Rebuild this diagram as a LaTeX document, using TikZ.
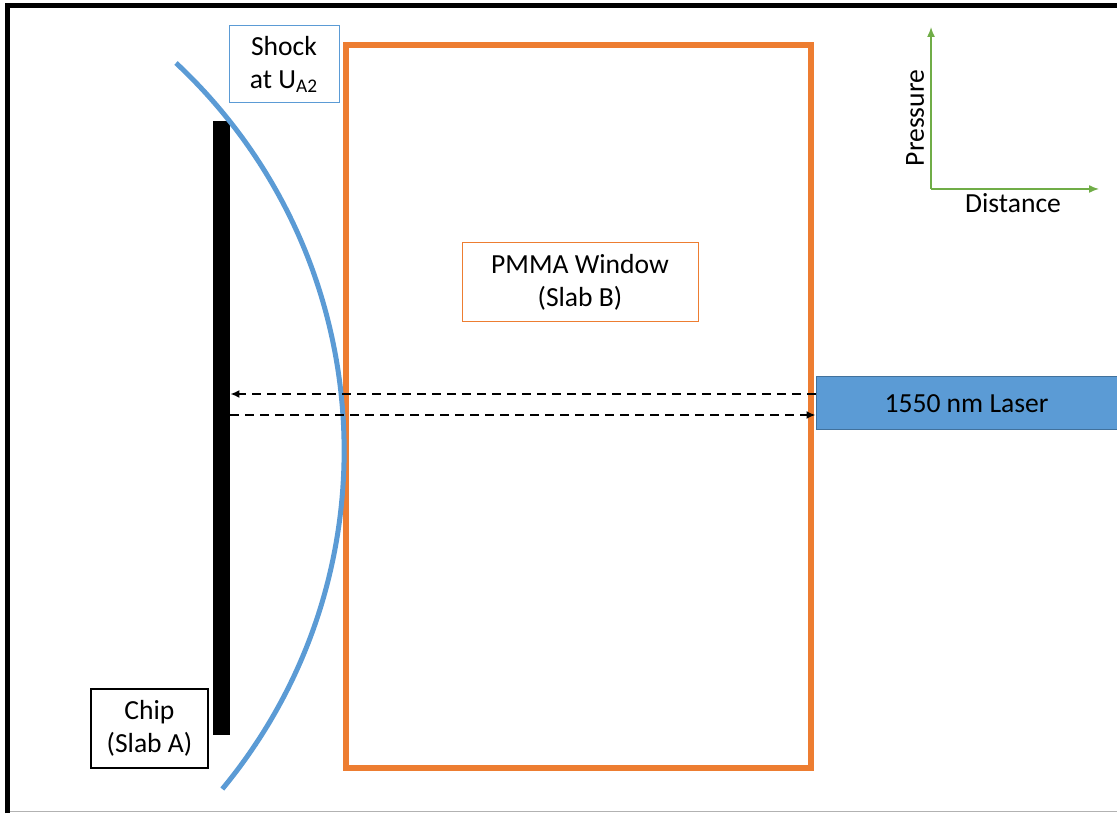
\documentclass[tikz,border=0pt]{standalone}
\usepackage{fontspec}
\setmainfont{Carlito}
\usetikzlibrary{arrows.meta}

\definecolor{officeblue}{HTML}{5B9BD5}
\definecolor{officeorange}{HTML}{ED7D31}
\definecolor{officegreen}{HTML}{70AD47}
\definecolor{laseredge}{HTML}{41719C}

\begin{document}
\begin{tikzpicture}[x=0.5pt, y=0.5pt,
    font=\fontsize{13.8}{16.5}\selectfont,
    labelbox/.style={draw, line width=0.5pt, align=center, inner sep=0pt, fill=white},
    beam/.style={line width=1.4pt, dash pattern=on 4.5pt off 3pt, -{Latex[length=4.5pt, width=4pt]}},
    axis/.style={officegreen, line width=0.75pt, -{Latex[length=5pt, width=4pt]}}]
        \useasboundingbox (0,0) rectangle (1117,813);

        % frame
        \draw[line width=2.5pt] (7.5,0) |- (1117,807.5);
        \draw[gray!60, line width=0.75pt] (10,1.5) -- (1117,1.5);

        \node[draw=officeorange, line width=3pt, minimum width=232.5pt, minimum height=361.5pt] (window) at (578.5, 406.5) {};
        \node[fill=black, inner sep=0pt, minimum width=8.5pt, minimum height=307pt] (chip) at (221.5, 385) {};
        \draw[officeblue, line width=2.5pt] (176,750) arc[start angle=46.9, end angle=-39.6, radius=265.45pt];

        \node[labelbox, draw=officeblue, minimum width=55pt, minimum height=38.5pt] (shock) at (284, 748.5) {Shock\\at U\textsubscript{A2}};
        \node[labelbox, draw=officeorange, minimum width=118pt, minimum height=39.5pt] (pmma) at (580, 530.5) {PMMA Window\\(Slab B)};
        \node[labelbox, draw=black, line width=0.75pt, minimum width=58.5pt, minimum height=39.5pt] (chiplabel) at (149.5, 84.5) {Chip\\(Slab A)};
        \node[fill=officeblue, draw=laseredge, line width=0.5pt, inner sep=0pt, minimum width=150.5pt, minimum height=26.5pt] (laser) at (966.5, 409.5) {1550 nm Laser};

        \draw[beam] ([yshift=4.75pt]laser.west) -- ([yshift=4.75pt]laser.west -| chip.east);
        \draw[beam] ([yshift=-5.75pt]laser.west -| chip.east) -- ([yshift=-5.75pt]laser.west);

        % pressure / distance axes
        \coordinate (origin) at (931, 624);
        \coordinate (ptop) at (931, 786);
        \coordinate (dright) at (1099, 624);
        \draw[axis] (origin) -- (ptop);
        \draw[axis] (origin) -- (dright);
        \node[rotate=90] (pressure) at (915, 695) {Pressure};
        \node (distance) at (1013, 610) {Distance};
    \end{tikzpicture}
\end{document}
